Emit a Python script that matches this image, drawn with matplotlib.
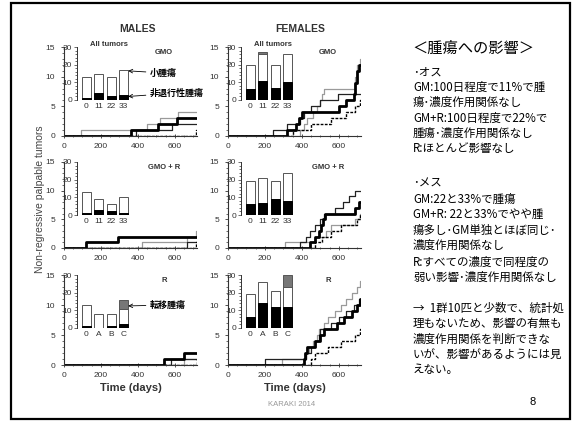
import matplotlib.pyplot as plt
import numpy as np
from matplotlib.patches import Rectangle
from matplotlib.ticker import MultipleLocator

plt.rcParams['font.family'] = ['Liberation Sans', 'Noto Sans CJK JP', 'DejaVu Sans']

W, H = 573, 422
JP = ['Noto Sans CJK JP', 'DejaVu Sans']

# ---- inset bar data (tumours per dose group) ----
labels_gmo = ["0", "11", "22", "33"]
labels_r = ["0", "A", "B", "C"]

# black = non-regressive, white = top of small tumours, gray = top of metastatic
m_gmo_black = [1, 4, 2, 3]
m_gmo_white = [13, 15, 13, 17]
m_gmo_gray = [0, 0, 0, 0]
f_gmo_black = [6, 11, 7, 10]
f_gmo_white = [20, 26, 20, 26]
f_gmo_gray = [0, 27, 0, 0]

m_gmor_black = [1, 3, 2, 1]
m_gmor_white = [13, 9, 6, 10]
m_gmor_gray = [0, 0, 0, 0]
f_gmor_black = [6, 7, 9, 8]
f_gmor_white = [19, 21, 19, 24]
f_gmor_gray = [0, 0, 0, 0]

m_r_black = [1, 0, 1, 2]
m_r_white = [13, 8, 8, 10.5]
m_r_gray = [0, 0, 0, 16]
f_r_black = [6, 14, 12, 12]
f_r_white = [19, 26, 21, 23]
f_r_gray = [0, 0, 0, 30]

# ---- cumulative tumour curves: (days, count) step points ----
# order: control (thin gray), low (thin black), mid (thick black), high (dashed)
m_gmo_curves = [
    ([93, 447, 518, 617], [1, 2, 3, 4]),
    ([390, 585], [1, 2]),
    ([365, 508, 610], [1, 2, 3]),
    ([712], [1]),
]
f_gmo_curves = [
    ([390, 410, 425, 460, 480, 500, 510, 520, 690, 700, 715], [1, 2, 3, 4, 5, 6, 7, 8, 10, 12, 13]),
    ([245, 320, 390, 410, 450, 500, 595], [1, 2, 3, 4, 5, 6, 7]),
    ([320, 370, 385, 400, 600, 640, 680, 690, 700, 710], [1, 2, 3, 4, 5, 6, 7, 9, 11, 12]),
    ([350, 450, 560, 640, 690, 715], [1, 2, 3, 4, 5, 6]),
]
m_gmor_curves = [
    ([420, 665, 712], [1, 2, 3]),
    ([665], [1]),
    ([117, 290], [1, 2]),
    ([715], [1]),
]
f_gmor_curves = [
    ([310, 470, 530, 560, 690, 715], [1, 2, 3, 4, 5, 6]),
    ([390, 420, 445, 470, 500, 520, 580, 620, 655, 690], [1, 2, 3, 4, 5, 6, 7, 8, 9, 10]),
    ([445, 470, 490, 505, 515, 525, 690, 710], [1, 2, 3, 4, 5, 6, 7, 8]),
    ([470, 510, 560, 610, 700, 715], [1, 2, 3, 4, 5, 6]),
]
m_r_curves = [
    ([650], [1]),
    ([580], [1]),
    ([540, 650], [1, 2]),
    ([718], [1]),
]
f_r_curves = [
    ([290, 420, 440, 460, 480, 490, 520, 540, 580, 610, 640, 670, 700, 715],
     [1, 2, 3, 4, 5, 6, 7, 8, 9, 10, 11, 12, 13, 14]),
    ([200, 420, 450, 470, 490, 500, 560, 600, 640, 680, 710], [1, 2, 3, 4, 5, 6, 7, 8, 9, 10, 11]),
    ([410, 415, 430, 470, 500, 520, 590, 630, 670, 700, 715], [1, 2, 3, 4, 5, 6, 7, 8, 9, 10, 11]),
    ([450, 470, 540, 610, 690, 715], [1, 2, 3, 4, 5, 6]),
]

panels = [
    # (col, row, title, curves, black, white, gray, bar labels)
    (0, 0, "GMO", m_gmo_curves, m_gmo_black, m_gmo_white, m_gmo_gray, labels_gmo),
    (1, 0, "GMO", f_gmo_curves, f_gmo_black, f_gmo_white, f_gmo_gray, labels_gmo),
    (0, 1, "GMO + R", m_gmor_curves, m_gmor_black, m_gmor_white, m_gmor_gray, labels_gmo),
    (1, 1, "GMO + R", f_gmor_curves, f_gmor_black, f_gmor_white, f_gmor_gray, labels_gmo),
    (0, 2, "R", m_r_curves, m_r_black, m_r_white, m_r_gray, labels_r),
    (1, 2, "R", f_r_curves, f_r_black, f_r_white, f_r_gray, labels_r),
]

line_styles = [
    dict(color='#9a9a9a', lw=0.9, ls='-'),
    dict(color='#222222', lw=0.9, ls='-'),
    dict(color='#000000', lw=2.0, ls='-'),
    dict(color='#000000', lw=1.0, ls=(0, (2, 1))),
]

col_x = [(64, 197), (228, 361)]
row_y = [(47, 136), (162, 248), (275, 365)]
inset_x = [(77, 129), (241, 293)]
TXT = '#333333'


def px_rect(x0, y0, x1, y1):
    return [x0 / W, 1 - y1 / H, (x1 - x0) / W, (y1 - y0) / H]


fig = plt.figure(figsize=(W / 100, H / 100), dpi=100)

insets = {}
for col, row, title, curves, black, white, gray, blabels in panels:
    x0, x1 = col_x[col]
    y0, y1 = row_y[row]
    ax = fig.add_axes(px_rect(x0, y0, x1, y1))
    for (days, counts), st in zip(curves, line_styles):
        xs = [0] + days + [720]
        ys = [0] + counts + [counts[-1]]
        ax.step(xs, ys, where='post', **st)
    ax.set_xlim(0, 720)
    ax.set_ylim(0, 15)
    ax.spines[['top', 'right']].set_visible(False)
    for s in ['left', 'bottom']:
        ax.spines[s].set_color('#333333')
        ax.spines[s].set_linewidth(0.8)
    ax.set_xticks([0, 200, 400, 600])
    ax.xaxis.set_minor_locator(MultipleLocator(50))
    ax.set_yticks([0, 5, 10, 15])
    ax.yaxis.set_minor_locator(MultipleLocator(1))
    ax.tick_params(labelsize=6, colors=TXT, length=2.5, width=0.6, pad=4)
    ax.tick_params(which='minor', length=1.5, width=0.5, colors=TXT)
    ax.tick_params(axis='x', which='both', direction='inout')
    ax.patch.set_alpha(0)
    ax.text(0.75, 0.94, title, transform=ax.transAxes, fontsize=5.5,
            fontweight='bold', color=TXT, ha='center', va='center')

    # inset bar chart
    ix0, ix1 = inset_x[col]
    axi = fig.add_axes(px_rect(ix0, y0, ix1, y0 + 53))
    pos = np.arange(len(blabels))
    axi.bar(pos, white, width=0.72, color='white', edgecolor='#555555', lw=0.7)
    g = np.array(gray)
    wh = np.array(white)
    mask = g > 0
    axi.bar(pos[mask], (g - wh)[mask], bottom=wh[mask], width=0.72,
            color='#777777', edgecolor='#555555', lw=0.7)
    axi.bar(pos, black, width=0.72, color='black', edgecolor='black', lw=0.7)
    axi.set_xlim(-0.75, 3.45)
    axi.set_ylim(0, 30)
    axi.set_xticks(pos, blabels)
    axi.set_yticks([0, 10, 20, 30])
    axi.yaxis.set_minor_locator(MultipleLocator(2))
    axi.spines[['top', 'right', 'bottom']].set_visible(False)
    axi.spines['left'].set_color('#333333')
    axi.spines['left'].set_linewidth(0.7)
    axi.tick_params(labelsize=6, colors=TXT, length=2, width=0.5, pad=1.5)
    axi.tick_params(axis='x', length=0, pad=2)
    axi.tick_params(which='minor', length=1.2, width=0.4)
    axi.patch.set_alpha(0)
    insets[(col, row)] = axi
    if row == 0:
        axi.text(0.62, 1.05, "All tumors", transform=axi.transAxes, fontsize=5.5,
                 fontweight='bold', color=TXT, ha='center', va='center')
    if row == 2:
        ax.set_xlabel("Time (days)", fontsize=8, fontweight='bold', color=TXT, labelpad=3)

# column titles and shared y label
fig.text(137 / W, 1 - 29 / H, "MALES", fontsize=7.5, fontweight='bold', color=TXT,
         ha='center', va='center')
fig.text(300 / W, 1 - 29 / H, "FEMALES", fontsize=7.5, fontweight='bold', color=TXT,
         ha='center', va='center')
fig.text(40 / W, 1 - 199 / H, "Non-regressive palpable tumors", fontsize=7.5,
         color='#444444', rotation=90, ha='center', va='center')

# annotations
arrow = dict(arrowstyle='->', lw=0.6, color='black', shrinkA=1, shrinkB=0)
insets[(0, 0)].annotate("小腫瘍", xy=(3.38, 16.5), xytext=(150, H - 73),
                        textcoords='figure pixels', fontsize=6.5, fontweight='bold',
                        family=JP, va='center', ha='left', arrowprops=arrow)
insets[(0, 0)].annotate("非退行性腫瘍", xy=(3.38, 2), xytext=(150, H - 93),
                        textcoords='figure pixels', fontsize=6.5, fontweight='bold',
                        family=JP, va='center', ha='left', arrowprops=arrow)
insets[(0, 2)].annotate("転移腫瘍", xy=(3.38, 12.5), xytext=(150, H - 305),
                        textcoords='figure pixels', fontsize=6.5, fontweight='bold',
                        family=JP, va='center', ha='left', arrowprops=arrow)

# right-hand text
fig.text(412 / W, 1 - 48 / H, "＜腫瘍への影響＞", fontsize=11, family=JP,
         ha='left', va='center')
text_lines = [
    (72, "･オス"),
    (87, "GM:100日程度で11%で腫"),
    (102, "瘍･濃度作用関係なし"),
    (118, "GM+R:100日程度で22%で"),
    (133, "腫瘍･濃度作用関係なし"),
    (148, "R:ほとんど影響なし"),
    (183, "･メス"),
    (199, "GM:22と33%で腫瘍"),
    (214, "GM+R: 22と33%でやや腫"),
    (230, "瘍多し･GM単独とほぼ同じ･"),
    (245, "濃度作用関係なし"),
    (262, "R:すべての濃度で同程度の"),
    (277, "弱い影響･濃度作用関係なし"),
    (308, "→  1群10匹と少数で、統計処"),
    (323, "理もないため、影響の有無も"),
    (339, "濃度作用関係を判断できな"),
    (354, "いが、影響があるようには見"),
    (370, "えない。"),
]
for y, s in text_lines:
    fig.text(413 / W, 1 - y / H, s, fontsize=8.3, family=JP, ha='left', va='center')

fig.text(533 / W, 1 - 402 / H, "8", fontsize=8, ha='center', va='center')
fig.text(292 / W, 1 - 404 / H, "KARAKI 2014", fontsize=5.5, color='#999999',
         ha='center', va='center')

# slide border
fig.add_artist(Rectangle((11 / W, 1 - 419 / H), (570 - 11) / W, (419 - 3) / H,
                         transform=fig.transFigure, fill=False, lw=1.6, ec='black'))

fig.savefig("out.png", dpi=100)
